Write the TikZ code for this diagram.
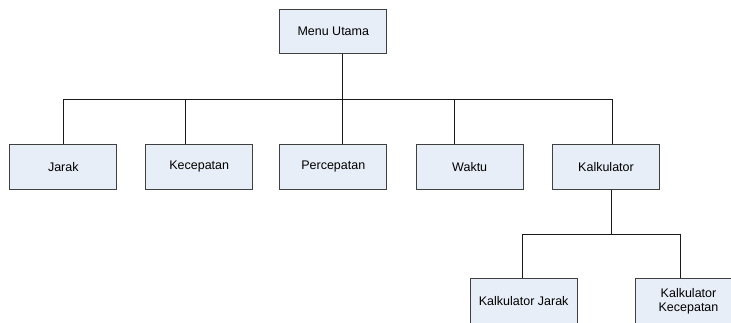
\documentclass[tikz,border=0pt]{standalone}
\usepackage{fontspec}
\setmainfont{Liberation Sans}
\usetikzlibrary{positioning}
\definecolor{boxfill}{HTML}{E8EEF8}
\definecolor{boxline}{HTML}{404040}

\begin{document}
\begin{tikzpicture}[
    % GLOBAL CFG
    x=1pt, y=-1pt,
    font=\fontsize{12.5}{14}\selectfont,
    % Styles
    menubox/.style={% For every box of the tree
        rectangle,
        draw=boxline,
        fill=boxfill,
        line width=0.9pt,
        minimum width=107pt,
        minimum height=45pt,
        inner sep=2pt,
        align=center,
        },
    link/.style={% Lines of the tree
        line width=0.9pt,
        draw=black!90,
        },
    ]
    \useasboundingbox (0,0) rectangle (731,323);

    % Draw the root
    \node [menubox, minimum height=44pt] (menu) at (333.3,31.3) {Menu Utama};

    % Draw the second row
    \node [menubox] (jarak) at (63.3,166.7) {Jarak};
    \node [menubox] (kecepatan) at (199.2,166.7) {Kecepatan};
    \node [menubox] (percepatan) at (333.3,166.7) {Percepatan};
    \node [menubox] (waktu) at (469.7,166.7) {Waktu};
    \node [menubox] (kalkulator) at (606,166.7) {Kalkulator};

    % Draw the third row
    \node [menubox] (kjarak) at (523.7,300.8) {Kalkulator Jarak};
    \node [menubox] (kkecepatan) at (688.5,300.8) {Kalkulator\\Kecepatan};

    % Bus points
    \coordinate (bus1) at (342.3,99.3);
    \coordinate (bus2) at (611.5,234);

    % Start connecting all.
    \draw [link] ([xshift=9pt]menu.south) -- (bus1);
    \draw [link] (jarak.north) |- (bus1);
    \draw [link] ([xshift=-14pt]kecepatan.north) |- (bus1);
    \draw [link] ([xshift=9pt]percepatan.north) -- (bus1);
    \draw [link] ([xshift=-15pt]waktu.north) |- (bus1);
    \draw [link] ([xshift=6pt]kalkulator.north) |- (bus1);

    % Kalkulator branch
    \draw [link] ([xshift=5.5pt]kalkulator.south) -- (bus2);
    \draw [link] ([xshift=-1pt]kjarak.north) |- (bus2);
    \draw [link] ([xshift=-8pt]kkecepatan.north) |- (bus2);

\end{tikzpicture}
\end{document}
